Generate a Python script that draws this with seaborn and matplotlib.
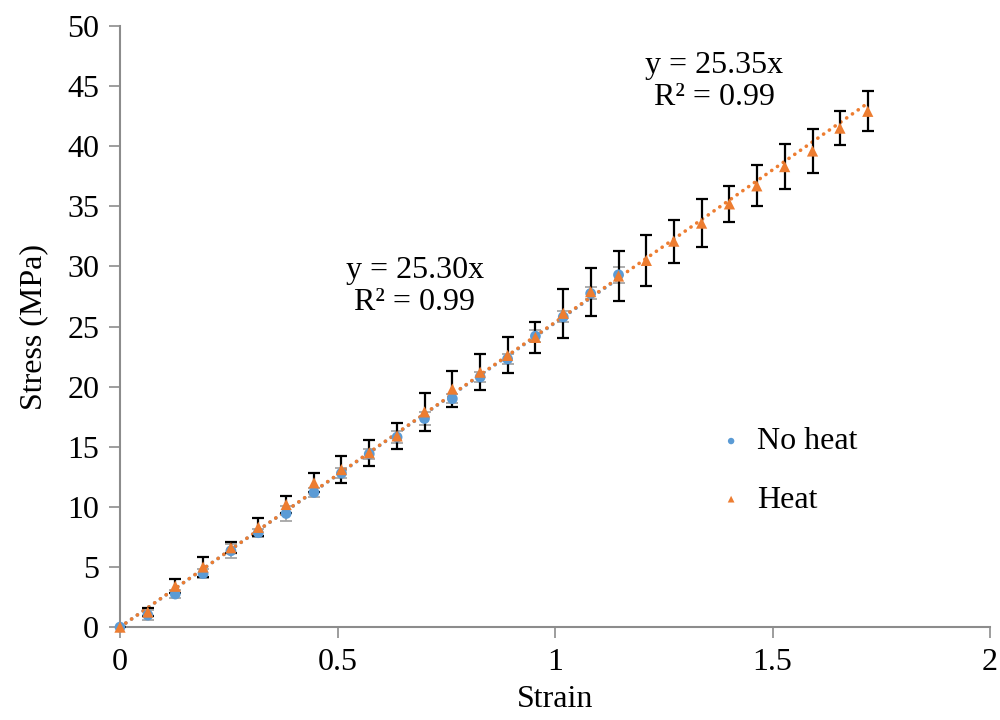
import numpy as np
import pandas as pd
import seaborn as sns
import matplotlib.pyplot as plt

sns.set_theme(style="white")
plt.rcParams["font.family"] = ["Liberation Serif", "DejaVu Serif"]
plt.rcParams["text.color"] = "black"
plt.rcParams["axes.labelcolor"] = "black"
plt.rcParams["xtick.labelcolor"] = "black"
plt.rcParams["ytick.labelcolor"] = "black"

# DATA

strain = [0, 0.064, 0.127, 0.191, 0.255, 0.318, 0.382, 0.446, 0.509, 0.573,
          0.637, 0.700, 0.764, 0.828, 0.891, 0.955, 1.019, 1.082, 1.146, 1.210,
          1.273, 1.337, 1.401, 1.464, 1.528, 1.592, 1.655, 1.719]
heat = [0, 1.25, 3.4, 5.0, 6.6, 8.3, 10.2, 12.0, 13.1, 14.5, 15.9, 17.9, 19.8, 21.2,
        22.6, 24.1, 26.1, 27.9, 29.2, 30.5, 32.1, 33.6, 35.2, 36.7, 38.3, 39.6,
        41.5, 42.9]
heat_err = [0, 0.3, 0.6, 0.8, 0.45, 0.75, 0.7, 0.8, 1.1, 1.1, 1.1, 1.6, 1.5, 1.5,
            1.5, 1.3, 2.05, 2.0, 2.05, 2.1, 1.8, 2.0, 1.5, 1.7, 1.9, 1.8, 1.4, 1.65]
no_heat = [0, 1.0, 2.75, 4.45, 6.35, 7.85, 9.45, 11.2, 12.8, 14.4, 15.8, 17.35,
           19.0, 20.8, 22.3, 24.2, 25.8, 27.75, 29.3]
no_heat_err = [0, 0.4, 0.3, 0.4, 0.6, 0.35, 0.65, 0.35, 0.4, 0.4, 0.5, 0.5, 0.4,
               0.4, 0.4, 0.5, 0.45, 0.5, 0.65]

slope_no_heat = 25.30
slope_heat = 25.35

blue = "#5B9BD5"
orange = "#ED7D31"
grey = "#A6A6A6"

df_no = pd.DataFrame({"Strain": strain[:len(no_heat)], "Stress": no_heat})
df_heat = pd.DataFrame({"Strain": strain, "Stress": heat})

# PLOT

fig, ax = plt.subplots(figsize=(10, 7.2), dpi=100)
fig.subplots_adjust(left=0.12, right=0.99, bottom=0.129, top=0.964)

# Trendlines (round dots)
x_no = np.array([0, df_no.Strain.max()])
x_h = np.array([0, df_heat.Strain.max()])
ax.plot(x_no, slope_no_heat * x_no, color=blue, lw=2.6,
        linestyle=(0, (0.05, 1.9)), dash_capstyle="round", zorder=2)
ax.plot(x_h, slope_heat * x_h, color=orange, lw=2.6,
        linestyle=(0, (0.05, 1.9)), dash_capstyle="round", zorder=3)

# Error bars
ax.errorbar(df_no.Strain, df_no.Stress, yerr=no_heat_err, fmt="none",
            ecolor=grey, elinewidth=1.3, capsize=4, capthick=1.3, zorder=1)
ax.errorbar(df_heat.Strain, df_heat.Stress, yerr=heat_err, fmt="none",
            ecolor="black", elinewidth=1.6, capsize=4, capthick=1.6, zorder=4)

# Points
sns.scatterplot(data=df_no, x="Strain", y="Stress", ax=ax, color=blue,
                marker="o", s=60, edgecolor="none", label="No heat", zorder=5,
                clip_on=False)
sns.scatterplot(data=df_heat, x="Strain", y="Stress", ax=ax, color=orange,
                marker="^", s=65, edgecolor="none", label="Heat", zorder=6,
                clip_on=False)

# Trendline labels
ax.text(0.678, 28.3, "y = 25.30x\nR² = 0.99", ha="center", va="center",
        fontsize=23, linespacing=1.15)
ax.text(1.366, 45.4, "y = 25.35x\nR² = 0.99", ha="center", va="center",
        fontsize=23, linespacing=1.15)

# Axes
ax.set_xlim(0, 2)
ax.set_ylim(0, 50)
ax.set_xticks([0, 0.5, 1, 1.5, 2])
ax.set_xticklabels(["0", "0.5", "1", "1.5", "2"])
ax.set_yticks(range(0, 51, 5))
ax.set_yticklabels([str(v) for v in range(0, 51, 5)])
ax.tick_params(axis="both", labelsize=23, direction="out", length=8,
               width=1.2, color="#8C8C8C", bottom=True, left=True, pad=7)
ax.set_xlabel("Strain", fontsize=23, labelpad=6)
ax.set_ylabel("Stress (MPa)", fontsize=23, labelpad=14)
sns.despine(ax=ax)
for s in ["left", "bottom"]:
    ax.spines[s].set_color("#8C8C8C")
    ax.spines[s].set_linewidth(1.5)

ax.legend(loc="center left", bbox_to_anchor=(0.64, 0.26), frameon=False,
          fontsize=23, markerscale=0.6, handletextpad=0.0, labelspacing=0.9,
          handlelength=1.6)

plt.savefig("out.png", dpi=100)
